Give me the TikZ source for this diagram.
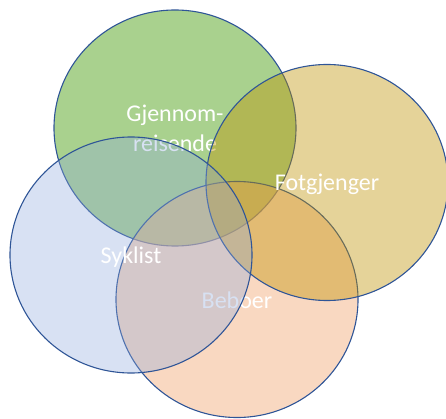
\documentclass[tikz,border=0pt]{standalone}
\usepackage{fontspec}
\setmainfont{Carlito}
\usepackage{tikz}
\usetikzlibrary{shapes.geometric}
\definecolor{setgreen}{HTML}{A9D18E}
\definecolor{setgold}{HTML}{BF9000}
\definecolor{setpeach}{HTML}{F4B183}
\definecolor{setblue}{HTML}{8FAADC}
\definecolor{setline}{HTML}{2F5597}

\begin{document}
\begin{tikzpicture}[
  x=1pt, y=-1pt,
  set/.style={ellipse, draw=setline, line width=1.1pt, minimum width=242pt, minimum height=236pt, inner sep=0pt,
    text=white, text opacity=1, align=center, text height=22pt, text depth=5pt, font=\fontsize{24}{30}\selectfont},
]
\useasboundingbox (0,0) rectangle (446,419);
\node[set, fill=setgreen, text height=52pt] (gjennom) at (175,128) {Gjennom-\\reisende};
\node[set, fill=setpeach, fill opacity=0.5] (beboer) at (237,299.5) {Beboer};
\node[set, fill=setgold, fill opacity=0.4] (fotgjenger) at (327,182.5) {Fotgjenger};
\node[set, fill=setblue, fill opacity=0.35] (syklist) at (131,255) {Syklist};
\end{tikzpicture}
\end{document}
